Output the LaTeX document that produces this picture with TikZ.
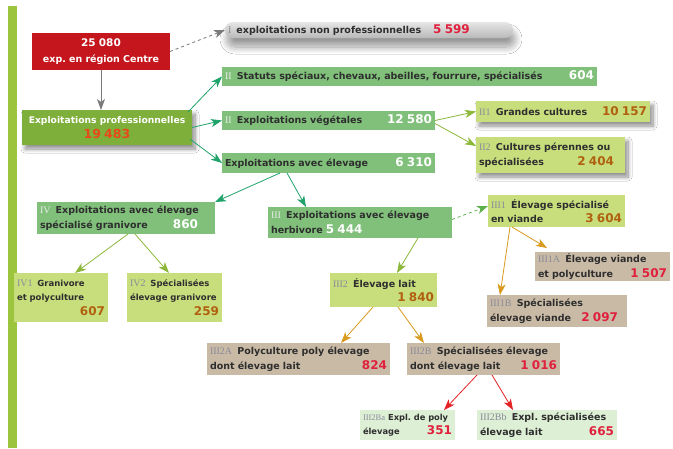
\documentclass[tikz,border=0pt]{standalone}
\usepackage{fontspec}
\setmainfont{DejaVu Sans}
\newfontfamily\pfont{Liberation Serif}
\usetikzlibrary{arrows.meta,calc,shadows,shadows.blur}
\definecolor{barg}{HTML}{9CC43C}
\definecolor{redbox}{HTML}{C4161C}
\definecolor{profg}{HTML}{7FAF3B}
\definecolor{midg}{HTML}{80C07A}
\definecolor{lightg}{HTML}{C8DE7D}
\definecolor{tanb}{HTML}{C9BAA6}
\definecolor{paleg}{HTML}{DDEFD5}
\definecolor{txt}{HTML}{2E2E2E}
\definecolor{numbr}{HTML}{B0600E}
\definecolor{numred}{HTML}{E0203C}
\definecolor{pronum}{HTML}{E8481C}
\definecolor{arrteal}{HTML}{1FA36A}
\definecolor{arryg}{HTML}{8CB83A}
\definecolor{arrgr}{HTML}{5BB04A}
\definecolor{arror}{HTML}{D99A1E}
\definecolor{arrred}{HTML}{E52325}
\definecolor{arrgray}{HTML}{7A7A7A}
\definecolor{pfgray}{HTML}{8A8A9A}
\newcommand\hr{\leavevmode\hbox{}\hskip 0pt plus 1fill\relax}
\newcommand\pf[2][pfgray]{{\pfont\mdseries\fontsize{10}{14.5}\selectfont\color{#1}#2}\hspace{2pt}}
\newcommand\pfsm[1]{{\pfont\mdseries\fontsize{8.5}{14.5}\selectfont\color{pfgray}#1}\hspace{3pt}}
\newcommand\nw[1]{{\fontsize{12}{12}\selectfont\color{white}#1}}
\newcommand\nb[1]{{\fontsize{12}{12}\selectfont\color{numbr}#1}}
\newcommand\nr[1]{{\fontsize{12}{12}\selectfont\color{numred}#1}}
\newcommand\bx[7]{%
  \pgfmathsetmacro\bxw{#4-#2}\pgfmathsetmacro\bxh{#5-#3}\pgfmathsetmacro\bxt{#4-#2-6}%
  \node[box,#6,minimum width=\bxw pt,minimum height=\bxh pt,text width=\bxt pt] (#1) at (#2,#3) {\frenchspacing #7};}
\tikzset{
  box/.style={anchor=north west, inner xsep=3pt, inner ysep=0pt, outer sep=0pt, align=left,
    font=\bfseries\fontsize{9.5}{14.5}\selectfont, text=txt},
  small/.style={font=\bfseries\fontsize{8.5}{14.5}\selectfont},
  tiny8/.style={font=\bfseries\fontsize{8.3}{14.5}\selectfont},
  shad/.style={blur shadow={shadow xshift=3pt, shadow yshift=-4pt, shadow opacity=45, shadow blur steps=10, shadow blur radius=4pt}},
  arr/.style={-{Stealth[length=11pt,width=8pt,inset=3pt]}, line width=0.8pt, draw=#1}
}
\begin{document}
\begin{tikzpicture}[x=1pt,y=-1pt]
\fill[white] (0,0) rectangle (673,448);
\useasboundingbox (0,0) rectangle (673,448);
\fill[barg] (8,6) rectangle (17,448);

\bx{red}{32}{33}{170}{70}{fill=redbox, align=center, text=white}{{\fontsize{10.5}{12}\selectfont 25 080}\\[1pt] exp. en région Centre}
\bx{nonpro}{225}{22}{513}{38}{rounded corners=8pt, top color=gray!20, bottom color=gray!55, blur shadow={shadow xshift=2pt, shadow yshift=-9pt, shadow opacity=40, shadow blur steps=14, shadow blur radius=7pt}}{\pf[black!45]{I} exploitations non professionnelles\hspace{12pt}\nr{5 599}}
\bx{pro}{22}{110}{192}{145}{fill=profg, align=center, text=white, shad, font=\bfseries\fontsize{9.2}{12}\selectfont}{Exploitations professionnelles\\[3pt] {\fontsize{12.5}{12}\selectfont\color{pronum}19 483}}
\bx{stat}{222}{67}{597}{86}{fill=midg}{\pf[white!85!gray]{II} Statuts spéciaux, chevaux, abeilles, fourrure, spécialisés\hr\nw{604}}
\bx{veg}{222}{111}{435}{130}{fill=midg}{\pf[white!85!gray]{II} Exploitations végétales\hr\nw{12 580}}
\bx{elev}{222}{153}{435}{173}{fill=midg}{Exploitations avec élevage\hr\nw{6 310}}
\bx{gc}{476}{101}{650}{122}{fill=lightg, shad}{\pf{II1} Grandes cultures\hr\nb{10 157}}
\bx{cp}{476}{137}{625}{173}{fill=lightg, shad}{\pf{II2} Cultures pérennes ou\\ spécialisées\hr\nb{2 404}\hspace*{8pt}}
\bx{iv}{37}{202}{215}{234}{fill=midg}{\pf[white!85!gray]{IV} Exploitations avec élevage\\ spécialisé granivore\hr\nw{860}\hspace*{14pt}}
\bx{herb}{268}{207}{452}{238}{fill=midg}{\pf[white!85!gray]{III} Exploitations avec élevage\\ herbivore \nw{5 444}}
\bx{v1}{488}{195}{625}{227}{fill=lightg}{\pf{III1} Élevage spécialisé\\ en viande\hr\nb{3 604}}
\bx{v1a}{535}{252}{670}{281}{fill=tanb}{\pf{III1A} Élevage viande\\ et polyculture\hr\nr{1 507}}
\bx{v1b}{487}{295}{627}{327}{fill=tanb}{\pf{III1B} Spécialisées\\ élevage viande\hr\nr{2 097}\hspace*{6pt}}
\bx{lait}{330}{273}{437}{307}{fill=lightg}{\pf{III2} Élevage lait\\ \hr\nb{1 840}}
\bx{iv1}{14}{273}{108}{322}{fill=lightg, small}{\pf{IV1}\ Granivore\\ et polyculture\\ \hr\nb{607}}
\bx{iv2}{127}{273}{222}{322}{fill=lightg, small}{\pf{IV2}\ Spécialisées\\ élevage granivore\\ \hr\nb{259}}
\bx{l2a}{207}{343}{390}{375}{fill=tanb}{\pf{III2A} Polyculture poly élevage\\ dont élevage lait\hr\nr{824}}
\bx{l2b}{407}{343}{560}{375}{fill=tanb}{\pf{III2B} Spécialisées élevage\\ dont élevage lait\hr\nr{1 016}}
\bx{l2ba}{360}{410}{455}{440}{fill=paleg, tiny8}{\pfsm{III2Ba}Expl. de poly\\ élevage\hr\nr{351}}
\bx{l2bb}{477}{410}{617}{440}{fill=paleg}{\pf{III2Bb} Expl. spécialisées\\ élevage lait\hr\nr{665}}

\draw[arr=arrgray, dashed] (red.east) -- (nonpro.west);
\draw[arr=arrgray] (red.south) -- (red.south |- pro.north);
\draw[arr=arrteal] ($(pro.north east)+(-4,2)$) -- (stat.west);
\draw[arr=arrteal] (pro.east) -- (veg.west);
\draw[arr=arrteal] ($(pro.south east)+(-2,-6)$) -- (elev.west);
\draw[arr=arryg] (veg.east) -- (gc.west);
\draw[arr=arryg] ($(veg.east)+(0,3)$) -- ($(cp.north west)+(0,9)$);
\draw[arr=arrteal] ($(elev.south west)+(58,0)$) -- (iv.north east);
\draw[arr=arrteal] ($(elev.south west)+(65,0)$) -- ($(herb.north west)+(38,0)$);
\draw[arr=arryg] ($(iv.south west)+(91,0)$) -- ($(iv1.north west)+(61,0)$);
\draw[arr=arryg] ($(iv.south west)+(98,0)$) -- ($(iv2.north west)+(42,0)$);
\draw[arr=arrgr, dashed] ($(herb.east)+(0,-3)$) -- ($(v1.west)+(0,-5)$);
\draw[arr=arryg] ($(herb.south west)+(150,0)$) -- ($(lait.north west)+(67,0)$);
\draw[arr=arror] ($(v1.south west)+(24,0)$) -- ($(v1a.north west)+(12,-4)$);
\draw[arr=arror] ($(v1.south west)+(22,0)$) -- ($(v1b.north west)+(13,0)$);
\draw[arr=arror] ($(lait.south west)+(43,0)$) -- ($(l2a.north west)+(134,0)$);
\draw[arr=arror] ($(lait.south west)+(68,0)$) -- ($(l2b.north west)+(17,0)$);
\draw[arr=arrred] ($(l2b.south west)+(70,0)$) -- ($(l2ba.north west)+(84,0)$);
\draw[arr=arrred] ($(l2b.south west)+(85,0)$) -- ($(l2bb.north west)+(36,0)$);
\end{tikzpicture}
\end{document}
